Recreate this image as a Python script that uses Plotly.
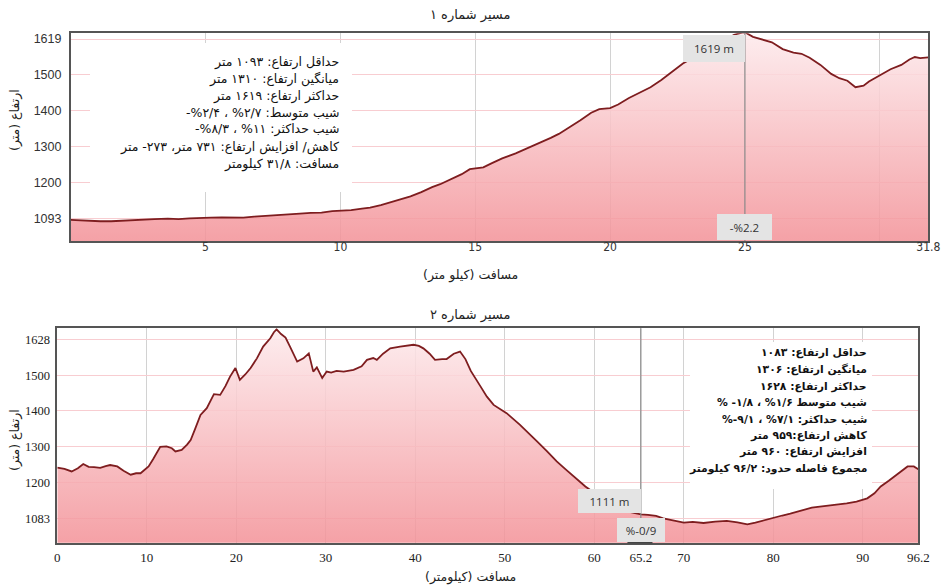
import plotly.graph_objects as go

W, H = 941, 587

# ---- Route 1 elevation profile (distance km, elevation m) ----
route1_km = [0.0, 0.4, 0.8, 1.1, 1.5, 1.9, 2.3, 2.7, 3.1, 3.6, 4.0, 4.4, 4.8, 5.2, 5.6,
             6.0, 6.4, 6.8, 7.3, 7.7, 8.1, 8.5, 8.9, 9.3, 9.7, 10.0, 10.4, 10.8, 11.1,
             11.5, 11.9, 12.2, 12.6, 13.0, 13.4, 13.7, 14.1, 14.5, 14.8, 15.1, 15.3,
             15.6, 16.0, 16.5, 17.0, 17.4, 17.8, 18.1, 18.5, 18.9, 19.3, 19.6, 20.0,
             20.3, 20.7, 21.1, 21.5, 21.9, 22.3, 22.7, 23.1, 23.5, 23.9, 24.3, 24.6,
             24.9, 25.0, 25.3, 25.7, 26.0, 26.4, 26.8, 27.1, 27.4, 27.8, 28.2, 28.5,
             28.8, 29.1, 29.4, 29.6, 30.0, 30.4, 30.8, 31.1, 31.3, 31.5, 31.8]
route1_elev = [1097, 1095, 1094, 1093, 1093, 1095, 1096, 1097, 1099, 1100, 1099, 1101,
               1103, 1103, 1104, 1104, 1103, 1106, 1108, 1109, 1111, 1114, 1116, 1117,
               1121, 1122, 1124, 1128, 1131, 1138, 1146, 1152, 1162, 1174, 1188, 1196,
               1210, 1224, 1238, 1240, 1243, 1254, 1268, 1282, 1298, 1311, 1325, 1336,
               1354, 1374, 1395, 1405, 1408, 1418, 1436, 1451, 1466, 1486, 1508, 1532,
               1549, 1566, 1583, 1600, 1612, 1618, 1619, 1606, 1598, 1591, 1572, 1562,
               1559, 1548, 1528, 1503, 1491, 1484, 1466, 1470, 1482, 1500, 1516, 1528,
               1543, 1550, 1547, 1549]

# ---- Route 2 elevation profile ----
route2_km = [0.0, 0.8, 1.6, 2.3, 2.9, 3.5, 4.1, 4.8, 5.4, 5.9, 6.7, 7.4, 8.2, 8.8, 9.3,
             9.8, 10.2, 10.7, 11.1, 11.5, 12.2, 12.8, 13.2, 13.9, 14.5, 14.9, 15.4,
             16.0, 16.7, 17.1, 17.5, 18.2, 18.8, 19.3, 19.9, 20.4, 21.0, 21.6, 22.3,
             23.0, 23.8, 24.2, 24.5, 25.0, 25.5, 26.0, 26.5, 26.8, 27.5, 28.1, 28.6,
             29.0, 29.6, 30.1, 30.6, 31.2, 32.0, 33.1, 34.0, 34.6, 35.3, 35.7, 36.4,
             37.2, 38.3, 39.0, 39.8, 40.4, 40.9, 41.6, 42.2, 43.0, 43.5, 44.3, 45.0,
             45.6, 46.2, 47.3, 48.0, 48.75, 50.2, 51.7, 52.6, 53.6, 54.7, 55.8, 56.8,
             57.7, 59.0, 60.3, 61.3, 62.5, 63.8, 65.2, 66.0, 66.9, 67.7, 68.5, 69.3,
             70.0, 71.0, 72.2, 73.5, 74.8, 76.0, 77.1, 78.0, 78.9, 80.0, 81.0, 81.9,
             83.4, 84.3, 85.2, 86.2, 87.1, 88.2, 89.3, 90.5, 91.3, 92.0, 92.9, 93.8,
             94.5, 95.0, 95.7, 96.2]
route2_elev = [1242, 1238, 1231, 1240, 1252, 1244, 1243, 1241, 1246, 1249, 1245, 1233,
               1222, 1226, 1226, 1236, 1245, 1265, 1282, 1300, 1301, 1296, 1287, 1291,
               1306, 1319, 1350, 1389, 1408, 1430, 1447, 1445, 1470, 1496, 1520, 1487,
               1502, 1520, 1547, 1580, 1603, 1620, 1628, 1615, 1605, 1580, 1552, 1538,
               1547, 1561, 1510, 1522, 1492, 1510, 1507, 1512, 1510, 1515, 1525, 1543,
               1548, 1543, 1560, 1575, 1580, 1582, 1585, 1582, 1575, 1560, 1543, 1545,
               1545, 1560, 1566, 1545, 1512, 1468, 1440, 1417, 1394, 1361, 1338, 1315,
               1288, 1259, 1237, 1217, 1189, 1166, 1150, 1133, 1119, 1111, 1110, 1107,
               1100, 1096, 1091, 1088, 1090, 1087, 1091, 1093, 1089, 1083, 1088, 1094,
               1103, 1108, 1113, 1124, 1130, 1133, 1136, 1138, 1142, 1147, 1156, 1170,
               1189, 1205, 1222, 1236, 1245, 1245, 1237]

# ---- Axis ticks ----
x1_tickvals = [5, 10, 15, 20, 25, 30, 31.8]
x1_ticktext = ["5", "10", "15", "20", "25", "", "31.8"]
y1_tickvals = [1100, 1200, 1300, 1400, 1500, 1600]
y1_ticktext = ["1093", "1200", "1300", "1400", "1500", "1619"]

x2_tickvals = [0, 10, 20, 30, 40, 50, 60, 65.2, 70, 80, 90, 96.2]
x2_ticktext = ["0", "10", "20", "30", "40", "50", "60", "65.2", "70", "80", "90", "96.2"]
y2_tickvals = [1100, 1200, 1300, 1400, 1500, 1600]
y2_ticktext = ["1083", "1200", "1300", "1400", "1500", "1628"]

# Cursor positions and their readouts
cursor1_km, cursor1_label, cursor1_grade = 25, "1619 m", "-%2.2"
cursor2_km, cursor2_label, cursor2_grade = 65.2, "1111 m", "%-0/9"

# Summary text for each route
stats1 = [
    "حداقل ارتفاع: ۱۰۹۳ متر",
    "میانگین ارتفاع: ۱۳۱۰ متر",
    "حداکثر ارتفاع: ۱۶۱۹ متر",
    "شیب متوسط: ۲/۷% ، ۲/۴%-",
    "شیب حداکثر: ۱۱% ، ۸/۳%-",
    "کاهش/ افزایش ارتفاع: ۷۳۱ متر، ۲۷۳- متر",
    "مسافت: ۳۱/۸ کیلومتر",
]
stats2 = [
    "حداقل ارتفاع: ۱۰۸۳",
    "میانگین ارتفاع: ۱۳۰۶",
    "حداکثر ارتفاع: ۱۶۲۸",
    "شیب متوسط ۱/۶% ، ۱/۸- %",
    "شیب حداکثر: ۷/۱% ، ۹/۱-%",
    "کاهش ارتفاع:۹۵۹ متر",
    "افزایش ارتفاع: ۹۶۰ متر",
    "مجموع فاصله حدود: ۹۶/۲ کیلومتر",
]

title1 = "مسیر شماره ۱"
title2 = "مسیر شماره ۲"
ytitle = "ارتفاع (متر)"
xtitle1 = "مسافت (کیلو متر)"
xtitle2 = "مسافت (کیلومتر)"

# ---- styling ----
LINE = "#7e1d1f"
FRAME = "#555555"
VGRID = "#d2d2d2"
HGRID = "#f8cdd1"
FILL_BOTTOM = "rgba(243,146,152,0.86)"
FILL_TOP = "rgba(253,234,236,0.86)"
FA_FONT = "DejaVu Sans, sans-serif"
RTL = lambda s: "\u202b" + s + "\u202c"


def px(x):
    return x / W


def py(y):
    return 1 - y / H


# plot-area rectangles in pixels: (left, top, right, bottom)
P1 = (70.7, 33.3, 928.3, 241.0)
P2 = (57.3, 328.3, 918.3, 542.7)
Y1_RANGE = [1038, 1616]
Y2_RANGE = [1032, 1631]

fig = go.Figure()

for km, elev, xa, ya, yr in [
    (route1_km, route1_elev, "x", "y", Y1_RANGE),
    (route2_km, route2_elev, "x2", "y2", Y2_RANGE),
]:
    fig.add_trace(go.Scatter(
        x=km, y=elev, xaxis=xa, yaxis=ya, mode="lines",
        line=dict(color=LINE, width=1.8),
        fill="tozeroy",
        fillgradient=dict(type="vertical",
                          colorscale=[[0, FILL_BOTTOM], [1, FILL_TOP]],
                          start=yr[0], stop=yr[1]),
        hoverinfo="skip", showlegend=False,
    ))

axis_common = dict(showline=True, mirror=True, linecolor=FRAME, linewidth=1.5,
                   ticks="", zeroline=False, fixedrange=True, automargin=False)

fig.update_layout(
    width=W, height=H,
    margin=dict(l=0, r=0, t=0, b=0),
    paper_bgcolor="white", plot_bgcolor="white",
    showlegend=False,
    xaxis=dict(domain=[px(P1[0]), px(P1[2])], range=[0, 31.8], anchor="y",
               tickvals=x1_tickvals, ticktext=x1_ticktext,
               showgrid=True, gridcolor=VGRID, gridwidth=1,
               tickfont=dict(family="Liberation Sans Narrow, DejaVu Sans Condensed, sans-serif",
                             size=12, color="#333"),
               ticklabelstandoff=-6, **axis_common),
    yaxis=dict(domain=[py(P1[3]), py(P1[1])], range=Y1_RANGE, anchor="x",
               tickvals=y1_tickvals, ticktext=y1_ticktext,
               showgrid=True, gridcolor=HGRID, gridwidth=1,
               tickfont=dict(family="Liberation Sans, Arial, sans-serif", size=12.5, color="#333"),
               ticklabelstandoff=5, **axis_common),
    xaxis2=dict(domain=[px(P2[0]), px(P2[2])], range=[0, 96.2], anchor="y2",
                tickvals=x2_tickvals, ticktext=x2_ticktext,
                showgrid=True, gridcolor=VGRID, gridwidth=1,
                tickfont=dict(family="Liberation Serif, Times New Roman, serif", size=13, color="#222"),
                ticklabelstandoff=2, **axis_common),
    yaxis2=dict(domain=[py(P2[3]), py(P2[1])], range=Y2_RANGE, anchor="x2",
                tickvals=y2_tickvals, ticktext=y2_ticktext,
                showgrid=True, gridcolor=HGRID, gridwidth=1,
                tickfont=dict(family="Liberation Serif, Times New Roman, serif", size=12.5, color="#222"),
                ticklabelstandoff=3, **axis_common),
)

shapes = []
# white panels behind the summary text
shapes.append(dict(type="rect", xref="paper", yref="paper",
                   x0=px(90), x1=px(352), y0=py(192), y1=py(43),
                   fillcolor="white", line=dict(width=0), layer="above"))
shapes.append(dict(type="rect", xref="paper", yref="paper",
                   x0=px(690), x1=px(872), y0=py(489), y1=py(342),
                   fillcolor="white", line=dict(width=0), layer="above"))
# cursor lines
shapes.append(dict(type="line", xref="x", yref="y domain", x0=cursor1_km, x1=cursor1_km,
                   y0=0, y1=1, line=dict(color="#8a8a8a", width=1.2), layer="above"))
shapes.append(dict(type="line", xref="x2", yref="y2 domain", x0=cursor2_km, x1=cursor2_km,
                   y0=0, y1=1, line=dict(color="#8a8a8a", width=1.2), layer="above"))
shapes.append(dict(type="line", xref="x2", yref="y2 domain", x0=63.7, x1=66.5,
                   y0=0.004, y1=0.004, line=dict(color="#444", width=3), layer="above"))
fig.update_layout(shapes=shapes)

ann = []


def text(x, y, s, size=12, family=FA_FONT, color="#222", xanchor="center", angle=0,
         align="center"):
    ann.append(dict(xref="paper", yref="paper", x=px(x), y=py(y), text=s,
                    showarrow=False, xanchor=xanchor, yanchor="middle", align=align,
                    font=dict(family=family, size=size, color=color), textangle=angle))


# titles
text(470, 15, RTL(title1), size=13)
text(470, 315, RTL(title2), size=13)
text(470, 275, RTL(xtitle1), size=12.5)
text(470, 577, RTL(xtitle2), size=12.5)
text(15, 120, RTL(ytitle), size=12.5, angle=-90)
text(15, 440, RTL(ytitle), size=12.5, angle=-90)

# summary blocks
for s, y in zip(stats1, [62, 79.5, 96.5, 113, 129, 146.5, 164]):
    text(341, y, RTL(s), size=12.5, xanchor="right", color="#111", align="right")
for s, y in zip(stats2, [352, 369, 386, 402.5, 419, 435, 451.5, 468.5]):
    text(869, y, "<b>" + RTL(s) + "</b>", size=10.8, xanchor="right", color="#111",
         align="right")


def readout(xref, x, xanchor, ycenter, w, h, s):
    ann.append(dict(xref=xref, yref="paper", x=x, y=py(ycenter), text=s,
                    showarrow=False, xanchor=xanchor, yanchor="middle",
                    width=w, height=h, bgcolor="#e4e4e4", borderpad=0, borderwidth=0,
                    font=dict(family="Open Sans, sans-serif", size=11.5, color="#333")))


readout("x", cursor1_km, "right", 48.5, 62, 27, cursor1_label)
readout("x", cursor1_km, "center", 227, 55, 26, cursor1_grade)
readout("x2", cursor2_km, "right", 500.5, 63, 24, cursor2_label)
readout("x2", cursor2_km, "center", 529.5, 48, 24, cursor2_grade)

fig.update_layout(annotations=ann)

fig.write_html("out.html")
